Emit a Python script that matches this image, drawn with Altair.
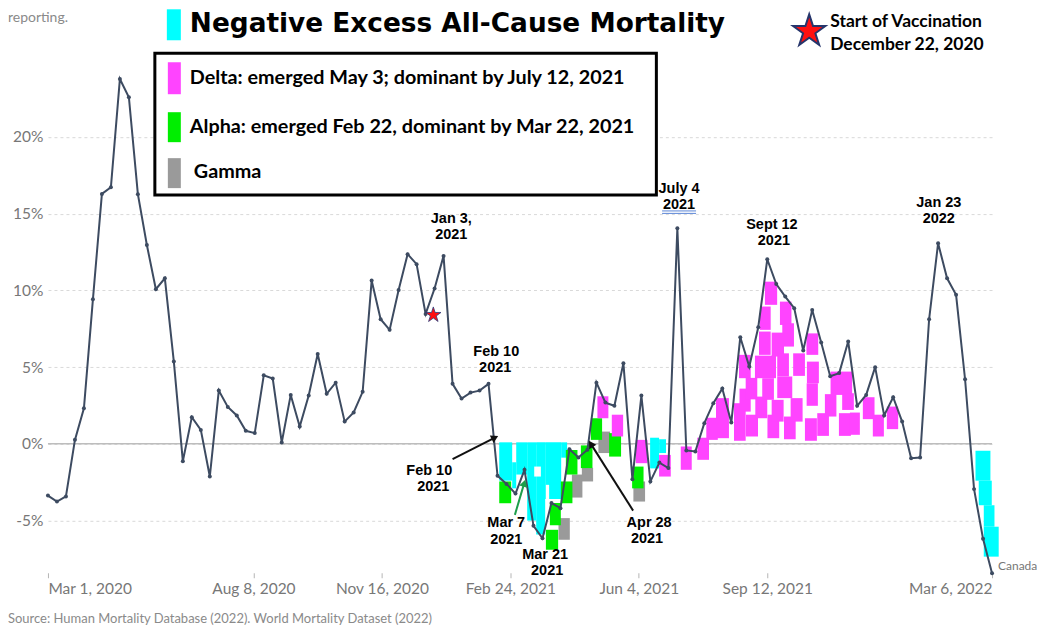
import altair as alt
import pandas as pd

START = pd.Timestamp("2020-03-01")

# Weekly excess all-cause mortality (%), Canada, from 2020-03-01 to 2022-03-06
excess_pct = [
    -3.37, -3.76, -3.43, 0.26, 2.32, 9.42, 16.29, 16.72, 23.78, 22.59,
    16.27, 12.96, 10.08, 10.79, 5.36, -1.13, 1.74, 0.91, -2.13, 3.47,
    2.41, 1.85, 0.85, 0.70, 4.47, 4.26, 0.09, 3.19, 1.13, 3.15,
    5.86, 3.26, 3.99, 1.45, 2.05, 3.39, 10.64, 8.12, 7.43, 10.03,
    12.36, 11.71, 8.47, 10.12, 12.25, 3.91, 2.95, 3.34, 3.47, 3.91,
    -2.08, -2.61, -3.24, -1.69, -5.34, -6.15, -3.86, -4.19, -0.35, -0.89,
    -0.39, 3.99, 2.69, 2.48, 5.26, -2.30, 3.15, -2.45, -1.22, -1.58,
    14.05, -0.43, -0.50, 1.35, 2.65, 3.60, 1.39, 6.95, 5.04, 7.60,
    12.03, 10.42, 9.60, 8.84, 6.08, 8.73, 6.60, 4.41, 4.61, 6.67,
    2.48, 3.19, 5.00, 1.85, 3.04, 1.45, -0.93, -0.89, 8.12, 13.07,
    10.79, 9.71, 4.21, -2.95, -6.19, -8.43,
]

tick_dates = ["2020-03-01", "2020-08-08", "2020-11-16", "2021-02-24",
              "2021-06-04", "2021-09-12", "2022-03-06"]
y_ticks = [-5, 0, 5, 10, 15, 20]

# Highlight boxes (variant / negative-excess marks), x in weeks since START, y in %
rect_kind = (["neg"] * 13 + ["hole"] * 2 + ["gamma"] * 5 + ["alpha"] * 9 + ["delta"] * 42)
rect_w0 = [50.19, 51.63, 52.08, 53.30, 54.30, 55.30, 57.08, 66.97, 67.97, 103.16, 103.52, 104.08, 104.08,
           54.08, 55.38,
           56.78, 58.27, 59.38, 61.22, 65.11,
           50.19, 55.38, 55.82, 57.04, 57.60, 59.27, 60.38, 62.41, 64.97,
           61.11, 62.71, 65.38, 67.97, 70.38, 72.22, 73.22, 74.30, 76.30, 76.86,
           76.91, 77.60, 77.63, 78.67, 78.63, 79.08, 79.19, 79.74, 79.44, 80.02,
           80.49, 80.49, 81.11, 81.11, 81.41, 81.67, 81.86, 82.60, 82.88, 84.19,
           84.36, 84.41, 84.38, 85.56, 86.41, 87.04, 87.97, 88.33, 89.19, 90.63,
           91.74, 93.30]
rect_w1 = [51.63, 52.08, 53.30, 54.30, 55.30, 57.08, 57.74, 67.97, 68.74, 104.82, 104.97, 105.27, 105.74,
           54.82, 55.74,
           58.04, 59.44, 60.63, 62.52, 66.41,
           51.52, 56.74, 57.04, 58.33, 58.89, 60.56, 61.63, 63.74, 66.24,
           62.33, 63.97, 66.67, 69.27, 71.60, 73.52, 74.50, 75.74, 77.60, 78.16,
           78.16, 78.89, 78.97, 80.00, 80.97, 80.38, 80.38, 81.10, 80.74, 81.33,
           81.86, 81.82, 82.41, 82.78, 82.69, 82.97, 83.16, 83.93, 84.19, 85.52,
           85.67, 85.74, 85.63, 86.86, 87.69, 89.44, 89.30, 89.63, 90.30, 91.93,
           92.97, 94.56]
rect_top = [0.1, -1.2, 0.1, 0.1, 0.1, 0.1, 0.1, 0.4, 0.3, -0.45, -2.4, -4.0, -5.4,
            -1.48, -2.67,
            -4.84, -2.0, -1.56, 0.8, -2.45,
            -2.45, -5.6, -3.85, -2.45, -0.4, -0.1, 1.67, 0.7, -1.48,
            3.1, 1.9, 0.26, -0.72, -0.17, 0.4, 1.7, 2.98, 2.65, 5.8,
            3.6, 4.3, 1.9, 3.08, 5.75, 7.32, 8.95, 10.57, 4.28, 1.9,
            7.25, 2.87, 5.9, 4.39, 9.27, 7.86, 1.78, 2.98, 5.9, 1.67,
            7.2, 5.36, 3.95, 2.0, 3.24, 4.71, 2.0, 3.3, 2.04, 3.04,
            1.9, 2.43]
rect_bot = [-2.4, -2.9, -2.0, -5.0, -5.9, -3.6, -0.9, -1.6, -0.6, -2.4, -4.0, -5.4, -7.35,
            -2.13, -3.76,
            -6.25, -3.5, -2.45, -0.6, -3.76,
            -3.87, -6.9, -5.3, -3.87, -2.0, -1.58, 0.26, -0.83, -2.9,
            1.67, 0.48, -1.26, -2.13, -1.69, -1.04, 0.26, 0.37, 0.2, 4.28,
            2.1, 2.9, 0.48, 1.67, 4.28, 5.8, 7.43, 9.06, 2.87, 0.37,
            5.69, 1.45, 4.39, 2.98, 7.75, 6.34, 0.3, 1.45, 4.43, 0.2,
            5.8, 3.95, 2.48, 0.52, 1.78, 3.19, 0.52, 2.21, 0.59, 1.61,
            0.48, 0.96]

# Date annotations (x in weeks since START, y in %)
note_text = ["Jan 3,", "2021", "Feb 10", "2021", "Feb 10", "2021", "Mar 7", "2021",
             "Mar 21", "2021", "Apr 28", "2021", "July 4", "2021", "Sept 12", "2021",
             "Jan 23", "2022"]
note_week = [44.86, 44.86, 49.86, 49.74, 42.41, 42.86, 50.97, 50.97,
             55.30, 55.52, 66.86, 66.63, 70.19, 70.19, 80.52, 80.74, 99.08, 99.08]
note_pct = [14.66, 13.62, 5.99, 4.95, -1.76, -2.80, -5.15, -6.25,
            -7.23, -8.27, -5.15, -6.19, 16.61, 15.57, 14.27, 13.22, 15.70, 14.66]

# Arrows (weeks, %), head at the second point
arrow_w0 = [45.00, 51.93, 65.08]
arrow_p0 = [-1.00, -4.63, -4.35]
arrow_w1 = [49.71, 52.97, 60.38]
arrow_p1 = [0.41, -2.56, 0.00]
arrow_col = ["#111111", "#1e9e4a", "#111111"]
arrow_ang = [63.0, 16.4, 327.6]

# Vaccination start star on the series
star_week = [42.86]
star_pct = [8.4]

legend_labels = ["Delta: emerged May 3; dominant by July 12, 2021",
                 "Alpha: emerged Feb 22, dominant by Mar 22, 2021",
                 "Gamma"]
legend_colors = ["#ff44ff", "#00ee00", "#9a9a9a"]


def at_week(w):
    return START + pd.Timedelta(days=float(w) * 7)


series = pd.DataFrame({
    "date": pd.date_range(START, periods=len(excess_pct), freq="7D"),
    "excess": excess_pct,
})
rects = pd.DataFrame({
    "kind": rect_kind,
    "x0": [at_week(w) for w in rect_w0],
    "x1": [at_week(w) for w in rect_w1],
    "top": rect_top,
    "bot": rect_bot,
})
notes = pd.DataFrame({
    "date": [at_week(w) for w in note_week],
    "pct": note_pct,
    "text": note_text,
})
arrows = pd.DataFrame({
    "d0": [at_week(w) for w in arrow_w0], "p0": arrow_p0,
    "d1": [at_week(w) for w in arrow_w1], "p1": arrow_p1,
    "col": arrow_col, "ang": arrow_ang,
})
star_df = pd.DataFrame({"date": [at_week(w) for w in star_week], "pct": star_pct})
underline = pd.DataFrame({"d0": [at_week(68.3)] * 2, "d1": [at_week(72.08)] * 2, "p": [15.18, 15.02]})


def dt(s):
    t = pd.Timestamp(s)
    return alt.DateTime(year=t.year, month=t.month, date=t.day)


x_scale = alt.Scale(domain=[dt(tick_dates[0]), dt(tick_dates[-1])])
y_scale = alt.Scale(domain=[-8.4, 25], nice=False, zero=False)

LINE = "#3d4b61"
AXIS_GRAY = "#777777"
STAR = ("M0,-1L0.2245,-0.309L0.9511,-0.309L0.3633,0.118L0.5878,0.809L0,0.382"
        "L-0.5878,0.809L-0.3633,0.118L-0.9511,-0.309L-0.2245,-0.309Z")

x_axis = alt.Axis(values=[dt(d) for d in tick_dates], format="%b %-d, %Y", title=None,
                  grid=False, domain=False, tickSize=5, tickColor="#b5b5b5", tickWidth=1,
                  labelFlush=True, labelOverlap=False, labelFont="Lato", labelFontSize=15.5,
                  labelColor=AXIS_GRAY, labelPadding=4)
y_axis = alt.Axis(values=y_ticks, labelExpr="datum.value + '%'", title=None, grid=True,
                  gridDash=[3, 3], gridColor="#d9d9d9", gridWidth=1, domain=False, ticks=False,
                  labelPadding=5, labelFont="Lato", labelFontSize=15.5, labelColor=AXIS_GRAY)


def X(field):
    return alt.X(field, scale=x_scale, axis=x_axis)


def Y(field):
    return alt.Y(field, scale=y_scale, axis=y_axis)


zero = alt.Chart(series.head(1)).mark_rule(color="#bdbdbd", strokeWidth=1.5).encode(
    y=alt.datum(0, scale=y_scale, axis=y_axis)
)

boxes = alt.Chart(rects).mark_rect().encode(
    x=X("x0:T"), x2="x1:T",
    y=Y("top:Q"), y2="bot:Q",
    color=alt.Color("kind:N", legend=None, scale=alt.Scale(
        domain=["neg", "hole", "gamma", "alpha", "delta"],
        range=["#00ffff", "#ffffff", "#9a9a9a", "#00ee00", "#ff44ff"])),
)

line = alt.Chart(series).mark_line(color=LINE, strokeWidth=2).encode(
    x=X("date:T"), y=Y("excess:Q"),
)
dots = alt.Chart(series).mark_circle(color=LINE, size=16, opacity=1).encode(
    x=X("date:T"), y=Y("excess:Q"),
)

canada = alt.Chart(series.tail(1)).mark_text(
    text="Canada", align="left", baseline="middle", dx=6, dy=-7,
    font="Lato", fontSize=12, color="#777777").encode(
    x=X("date:T"), y=Y("excess:Q"),
)

note_layer = alt.Chart(notes).mark_text(
    font="Liberation Sans", fontWeight="bold", fontSize=14.5, color="black",
    align="center", baseline="middle").encode(
    x=X("date:T"), y=Y("pct:Q"), text="text:N",
)

ul = alt.Chart(underline).mark_rule(color="#5b86d6", strokeWidth=1).encode(
    x=X("d0:T"), x2="d1:T", y=Y("p:Q"),
)

arrow_lines = alt.Chart(arrows).mark_rule(strokeWidth=2).encode(
    x=X("d0:T"), x2="d1:T",
    y=Y("p0:Q"), y2="p1:Q",
    color=alt.Color("col:N", scale=None),
)
arrow_heads = alt.Chart(arrows).mark_point(shape="triangle-up", filled=True, size=70, opacity=1).encode(
    x=X("d1:T"), y=Y("p1:Q"),
    color=alt.Color("col:N", scale=None),
    angle=alt.Angle("ang:Q", scale=None),
)

star_chart = alt.Chart(star_df).mark_point(shape=STAR, filled=True, size=260, fill="#ff1010",
                                            stroke="#2a3a7a", strokeWidth=0.8, opacity=1).encode(
    x=X("date:T"), y=Y("pct:Q"),
)

one = alt.Data(values=[{}])


def pix_rect(x0, x1, y0, y1, **kw):
    return alt.Chart(one).mark_rect(**kw).encode(
        x=alt.value(x0), x2=alt.value(x1), y=alt.value(y0), y2=alt.value(y1))


def pix_text(t, x, y, **kw):
    return alt.Chart(one).mark_text(text=t, **kw).encode(x=alt.value(x), y=alt.value(y))


LEG_FONT = dict(align="left", baseline="middle", font="Lato", fontWeight="bold", color="black")

overlay = [
    # title with cyan swatch
    pix_rect(119, 133, -51, -20, color="#00ffff"),
    pix_text("Negative Excess All-Cause Mortality", 142, -36, align="left", baseline="middle",
             font="DejaVu Sans", fontWeight="bold", fontSize=26.4, color="black"),
    # legend box
    pix_rect(107, 609, -7, 135, fill="white", stroke="black", strokeWidth=3),
    pix_rect(120, 133, 2, 34, color=legend_colors[0]),
    pix_rect(120, 133, 52, 82, color=legend_colors[1]),
    pix_rect(120, 133, 98, 128, color=legend_colors[2]),
    pix_text(legend_labels[0], 142, 18, fontSize=19.8, **LEG_FONT),
    pix_text(legend_labels[1], 142, 67, fontSize=19.8, **LEG_FONT),
    pix_text(legend_labels[2], 146, 112, fontSize=19.8, **LEG_FONT),
    # vaccination legend
    alt.Chart(one).mark_point(shape=STAR, filled=True, size=1150, fill="#ff1010",
                              stroke="#26356b", strokeWidth=2, opacity=1).encode(
        x=alt.value(762), y=alt.value(-29)),
    pix_text("Start of Vaccination", 783, -38, fontSize=17.5, **LEG_FONT),
    pix_text("December 22, 2020", 783, -15, fontSize=17.5, **LEG_FONT),
    # source and note
    pix_text("Source: Human Mortality Database (2022). World Mortality Dataset (2022)", -40, 559,
             align="left", baseline="middle", font="Lato", fontSize=13, color="#8a8a8a"),
    pix_text("reporting.", -40, -42, align="left", baseline="middle", font="Lato",
             fontSize=14, color="#8a8a8a"),
]

chart = alt.layer(
    zero, boxes, line, dots, canada, note_layer, ul, arrow_lines, arrow_heads, star_chart,
    *overlay,
).properties(
    width=945, height=513,
    autosize=alt.AutoSizeParams(type="none"),
    padding={"left": 40, "top": 52, "right": 45, "bottom": 52},
).configure_view(stroke=None)

chart.save("out.html", embed_options={"renderer": "svg", "actions": False})
